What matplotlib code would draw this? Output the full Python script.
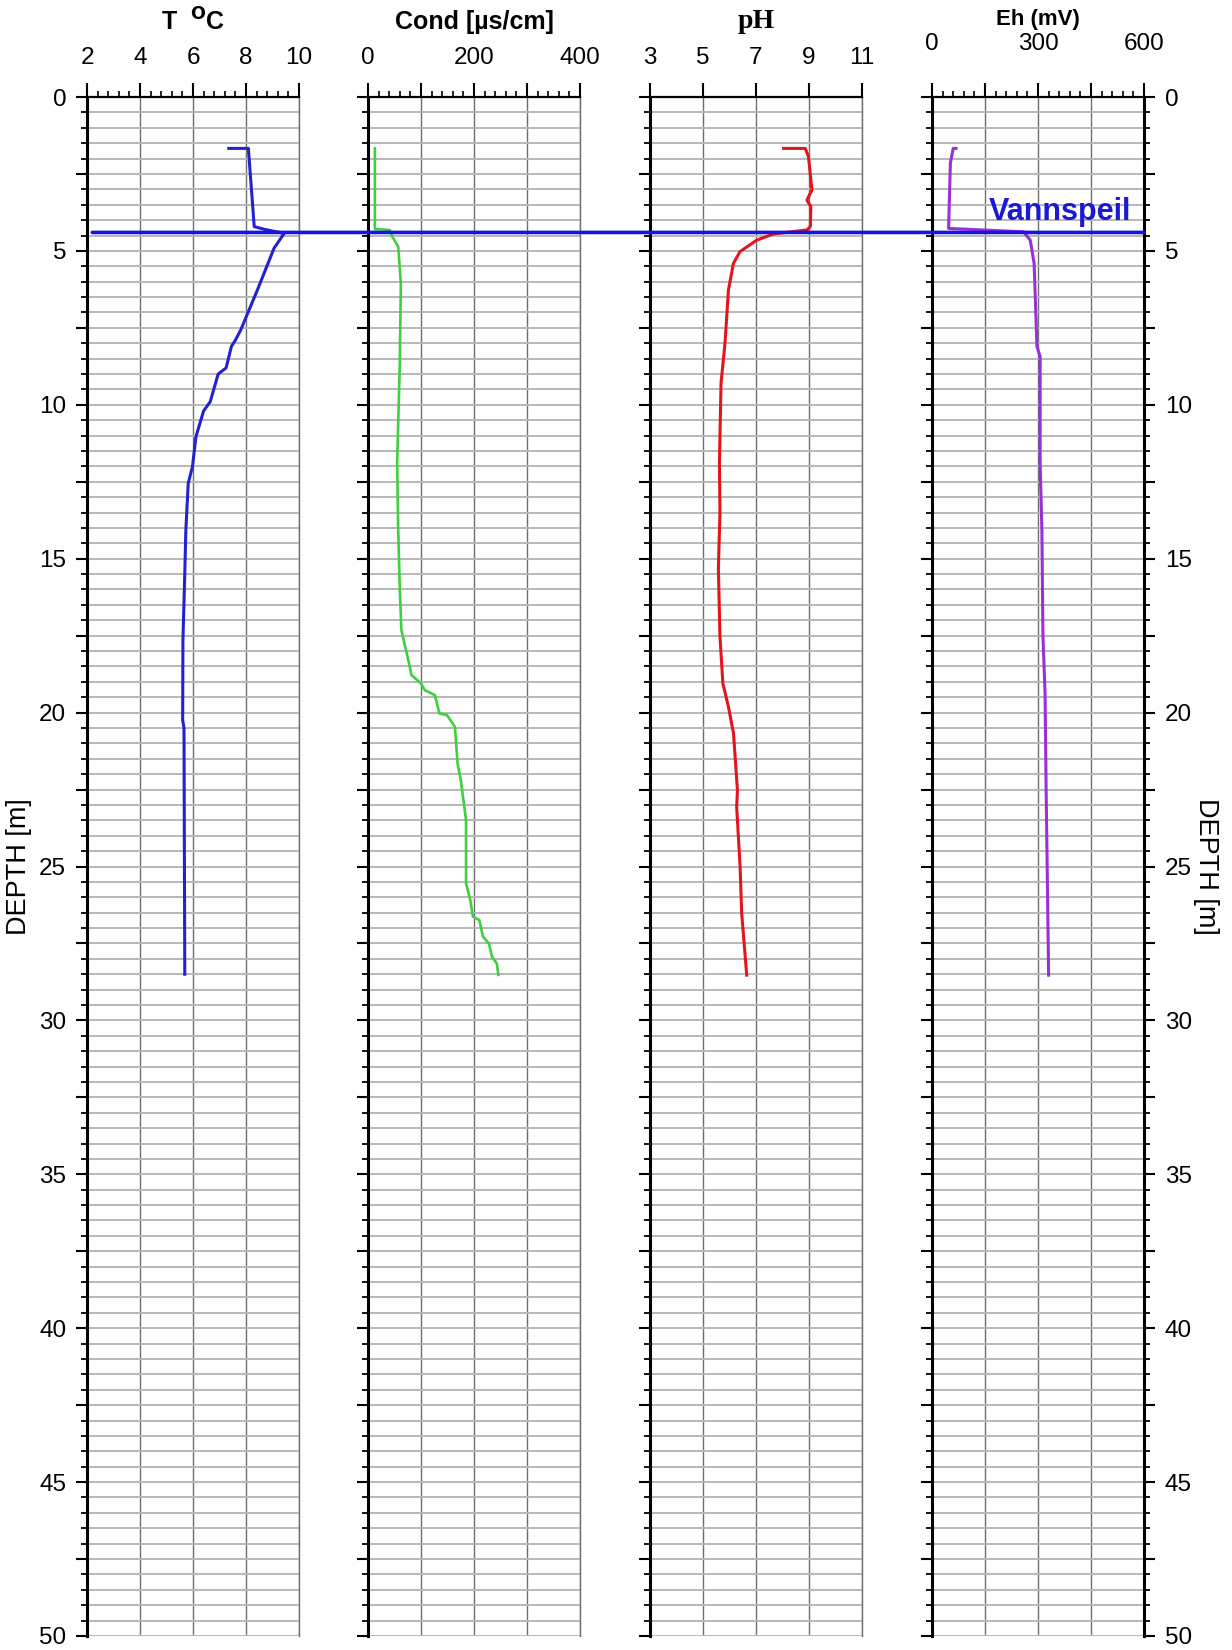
"""
Borehole log: temperature, conductivity, pH and Eh versus depth,
with the groundwater level (Vannspeil) drawn across all four tracks.
"""

import matplotlib
matplotlib.use("Agg")
import matplotlib.pyplot as plt
from matplotlib.ticker import MultipleLocator, FuncFormatter, NullLocator
from matplotlib.patches import ConnectionPatch

plt.rcParams['font.family'] = ['Liberation Sans', 'DejaVu Sans']

temp_depth = [1.67, 1.67, 4.21, 4.30, 4.43, 4.91, 6.27, 7.57, 7.90, 8.10, 8.80,
              9.00, 9.90, 10.20, 11.04, 12.01, 12.55, 14.07, 15.48, 17.65, 20.25,
              20.50, 28.50]
temp_val = [7.35, 8.09, 8.31, 8.70, 9.44, 9.06, 8.43, 7.80, 7.60, 7.45, 7.25,
            6.95, 6.65, 6.40, 6.11, 5.98, 5.82, 5.73, 5.69, 5.62, 5.61,
            5.66, 5.69]

cond_depth = [1.67, 4.29, 4.32, 4.54, 4.86, 6.05, 8.65, 11.9, 14.07, 16.0, 17.32,
              18.29, 18.78, 19.05, 19.27, 19.43, 20.03, 20.08, 20.46, 21.65,
              22.19, 23.49, 25.55, 26.09, 26.63, 26.74, 27.28, 27.50, 27.93,
              28.15, 28.52]
cond_val = [13, 13, 41, 46, 57, 62, 60, 55, 57, 60, 63, 76, 82, 100, 107, 126,
            135, 149, 164, 169, 175, 185, 185, 193, 198, 210, 217, 228, 234,
            243, 246]

ph_depth = [1.67, 1.67, 1.94, 3.02, 3.35, 3.56, 4.21, 4.32, 4.45, 4.65, 5.02,
            5.40, 6.27, 8.0, 9.3, 11.9, 13.53, 15.3, 17.53, 19.05, 19.81, 20.67,
            22.52, 23.06, 25.0, 26.52, 28.53]
ph_val = [8.04, 8.86, 8.98, 9.11, 8.92, 9.07, 9.05, 8.92, 7.66, 7.03, 6.40,
          6.15, 5.96, 5.83, 5.68, 5.62, 5.64, 5.58, 5.64, 5.75, 5.96, 6.15,
          6.30, 6.27, 6.40, 6.46, 6.65]

eh_depth = [1.67, 1.67, 2.15, 4.27, 4.38, 4.65, 5.4, 8.1, 8.44, 11.9, 14.07,
            17.53, 19.37, 22.5, 25.87, 28.53]
eh_val = [68, 60, 52, 47, 259, 278, 289, 297, 306, 306, 311, 314, 320, 323,
          327, 330]

water_level = 4.4

# track settings: (title, xlim, major step, label step, minor step, colour)
tracks = [
    (r'T  $^{\mathbf{O}}$C', (2, 10), 2, 2, 0.4, '#2222d0'),
    ('Cond [\u00b5s/cm]', (0, 400), 100, 200, 20, '#3fcf3f'),
    ('pH', (3, 11), 2, 2, None, '#e4141c'),
    ('Eh (mV)', (0, 600), 150, 300, 30, '#9a2fd6'),
]
series = [(temp_val, temp_depth), (cond_val, cond_depth),
          (ph_val, ph_depth), (eh_val, eh_depth)]

W, H = 1232, 1650
fig = plt.figure(figsize=(W / 100, H / 100), dpi=100)

lefts = [87, 368, 650, 932]
width = 212
top_px, bot_px = 97, 1636

depth_fmt = FuncFormatter(lambda v, p: f'{int(round(v))}' if abs(v % 5) < 1e-6 else '')

axes = []
for i, (title, xlim, major, lab_step, minor, col) in enumerate(tracks):
    ax = fig.add_axes([lefts[i] / W, 1 - bot_px / H, width / W, (bot_px - top_px) / H])
    axes.append(ax)
    xv, dv = series[i]
    ax.plot(xv, dv, color=col, lw=2.2 if i != 1 else 1.9, zorder=3,
            solid_joinstyle='round')

    ax.set_xlim(*xlim)
    ax.set_ylim(50, 0)

    # x axis on top
    x0 = xlim[0]
    ax.xaxis.tick_top()
    ax.xaxis.set_major_locator(MultipleLocator(major, offset=x0 % major))
    ax.xaxis.set_major_formatter(FuncFormatter(
        lambda v, p, s=lab_step, o=x0: f'{v:g}'
        if abs(((v - o) / s) - round((v - o) / s)) < 1e-6 else ''))
    if minor:
        ax.xaxis.set_minor_locator(MultipleLocator(minor))
    else:
        ax.xaxis.set_minor_locator(NullLocator())
    ax.tick_params(axis='x', which='major', direction='out', length=10, width=1.5,
                   labelsize=17.5, pad=20 if i == 3 else 10.5, colors='black')
    ax.tick_params(axis='x', which='minor', direction='out', length=4, width=1.2)

    # y axis: depth
    ax.yaxis.set_major_locator(MultipleLocator(2.5))
    ax.yaxis.set_minor_locator(MultipleLocator(0.5))
    ax.yaxis.set_major_formatter(depth_fmt)
    ax.tick_params(axis='y', which='major', direction='out', length=8, width=1.5,
                   labelsize=17.5, pad=7)
    ax.tick_params(axis='y', which='minor', direction='out', length=4, width=1.3)
    if i == 0:
        ax.tick_params(axis='y', which='both', left=True, labelleft=True)
    elif i == 3:
        ax.tick_params(axis='y', which='both', left=True, right=True,
                       labelleft=False, labelright=True)
    else:
        ax.tick_params(axis='y', which='both', left=True, labelleft=False)

    # grid
    ax.set_axisbelow(True)
    ax.grid(axis='y', which='both', color='#b8b8b8', lw=1.4)
    ax.grid(axis='x', which='major', color='#6e6e6e', lw=1.0)
    ax.grid(axis='x', which='minor', visible=False)

    # spines
    ax.spines['bottom'].set_visible(False)
    ax.spines['left'].set_linewidth(2.2)
    ax.spines['top'].set_linewidth(1.6)
    if i == 3:
        ax.spines['right'].set_linewidth(2.2)
    else:
        ax.spines['right'].set_color('#6e6e6e')
        ax.spines['right'].set_linewidth(1.0)

    # track title
    cx = (lefts[i] + width / 2) / W
    if i == 2:
        fig.text(cx, 1 - 22 / H, title, ha='center', va='center', fontsize=20,
                 fontweight='bold', family=['Liberation Serif', 'DejaVu Serif'])
    elif i == 3:
        fig.text(cx, 1 - 20 / H, title, ha='center', va='center', fontsize=16,
                 fontweight='bold')
    else:
        fig.text(cx, 1 - 22 / H, title, ha='center', va='center', fontsize=18,
                 fontweight='bold')

# depth labels on both sides
mid = 1 - (top_px + bot_px) / 2 / H
fig.text(19 / W, mid, 'DEPTH [m]', rotation=90, ha='center', va='center', fontsize=19.5)
fig.text(1206 / W, mid, 'DEPTH [m]', rotation=270, ha='center', va='center', fontsize=19.5)

# groundwater level across all tracks
con = ConnectionPatch(xyA=(2.2, water_level), coordsA='data', axesA=axes[0],
                      xyB=(600, water_level), coordsB='data', axesB=axes[3],
                      color='#1414e6', lw=2.6, zorder=10)
fig.add_artist(con)
axes[3].text(563, 3.75, 'Vannspeil', ha='right', va='center', color='#1a1ad6',
             fontsize=22, fontweight='bold', zorder=11)

fig.savefig('out.png', dpi=100)
